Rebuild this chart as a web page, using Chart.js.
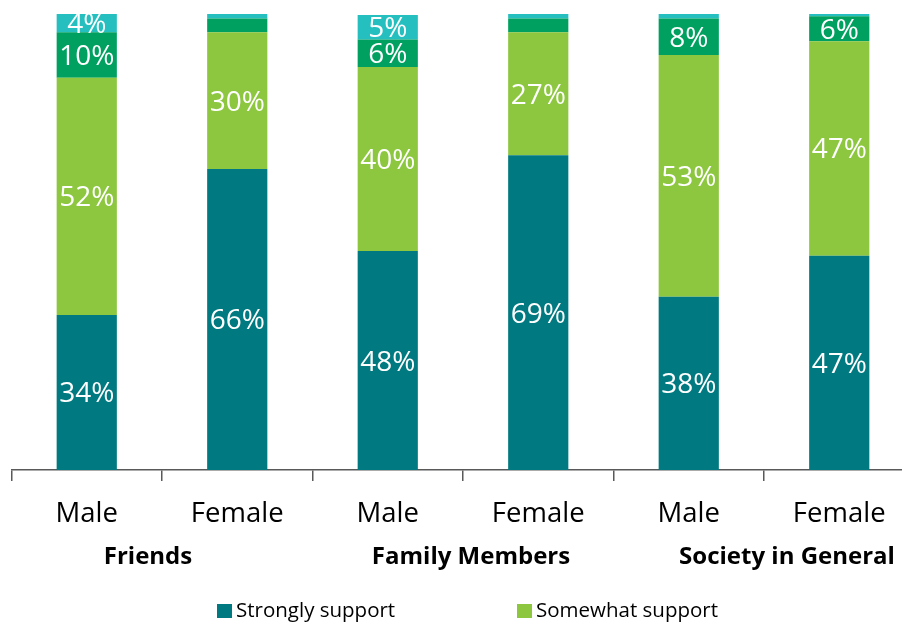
<!DOCTYPE html>
<html>
<head>
<meta charset="utf-8">
<script src="https://cdn.jsdelivr.net/npm/chart.js@4.4.1/dist/chart.umd.min.js"></script>
<style>
  html, body { margin: 0; padding: 0; background: #fff; overflow: hidden; }
  #wrap { position: relative; width: 920px; height: 624px; }
</style>
</head>
<body>
<div id="wrap"><canvas id="c" width="920" height="624"></canvas></div>
<script>
const categories = ["Male", "Female", "Male", "Female", "Male", "Female"];
const groups = ["Friends", "Family Members", "Society in General"];
const seriesNames = ["Strongly support", "Somewhat support", "Somewhat oppose", "Strongly oppose"];
const stronglySupport = [34, 66, 48, 69, 38, 47];
const somewhatSupport = [52, 30, 40.4, 27, 53, 47];
const somewhatOppose  = [10, 3, 6, 3, 8, 5.5];
const stronglyOppose  = [4, 1, 5.4, 1, 1, 0.5];

const colors = ["#007A80", "#8DC63F", "#00A160", "#26BFBF"];
const FONT = "'Open Sans', 'Noto Sans', sans-serif";

const labelPlugin = {
  id: 'valueLabels',
  afterDatasetsDraw(chart) {
    const ctx = chart.ctx;
    ctx.save();
    ctx.fillStyle = '#ffffff';
    ctx.font = "28px " + FONT;
    ctx.textAlign = 'center';
    ctx.textBaseline = 'middle';
    chart.data.datasets.forEach((ds, di) => {
      const meta = chart.getDatasetMeta(di);
      meta.data.forEach((bar, i) => {
        const v = ds.data[i];
        if (v >= 4) {
          const y = (bar.y + bar.base) / 2;
          ctx.fillText(Math.round(v) + '%', bar.x, y + 2);
        }
      });
    });
    ctx.restore();
  }
};

const groupPlugin = {
  id: 'groupLabels',
  afterDraw(chart) {
    const ctx = chart.ctx;
    const xs = chart.scales.x;
    const shifts = [-14, 8, 23];
    ctx.save();
    ctx.fillStyle = '#000';
    ctx.font = "bold 24px " + FONT;
    ctx.textAlign = 'center';
    ctx.textBaseline = 'middle';
    groups.forEach((g, k) => {
      const cx = (xs.getPixelForValue(2 * k) + xs.getPixelForValue(2 * k + 1)) / 2 + shifts[k];
      ctx.fillText(g, cx, 557);
    });
    // legend (first two series as in the reference)
    ctx.font = "20.5px " + FONT;
    ctx.textAlign = 'left';
    const legendX = [217, 517];
    [0, 1].forEach((di, k) => {
      const ds = chart.data.datasets[di];
      ctx.fillStyle = ds.backgroundColor;
      ctx.fillRect(legendX[k], 604, 15, 14);
      ctx.fillStyle = '#000';
      ctx.fillText(ds.label, legendX[k] + 19, 611);
    });
    ctx.restore();
  }
};

new Chart(document.getElementById('c'), {
  type: 'bar',
  data: {
    labels: categories,
    datasets: [
      { label: seriesNames[0], data: stronglySupport, backgroundColor: colors[0] },
      { label: seriesNames[1], data: somewhatSupport, backgroundColor: colors[1] },
      { label: seriesNames[2], data: somewhatOppose, backgroundColor: colors[2] },
      { label: seriesNames[3], data: stronglyOppose, backgroundColor: colors[3] }
    ]
  },
  options: {
    responsive: false,
    animation: false,
    layout: { padding: { left: 11.5, right: 5.5, top: 14, bottom: 0 } },
    datasets: { bar: { categoryPercentage: 1, barPercentage: 0.4, borderWidth: 0 } },
    plugins: {
      legend: { display: false },
      tooltip: { enabled: false }
    },
    scales: {
      x: {
        stacked: true,
        grid: { display: true, drawOnChartArea: false, drawTicks: true, tickLength: 11, color: '#595959', lineWidth: 1.5 },
        border: { display: true, color: '#595959', width: 1.5 },
        ticks: { color: '#000', font: { family: FONT, size: 27.5 }, padding: 17, maxRotation: 0 },
        afterFit(scale) { scale.height = 154; }
      },
      y: {
        stacked: true,
        display: false,
        min: 0,
        max: 100
      }
    }
  },
  plugins: [labelPlugin, groupPlugin]
});
</script>
</body>
</html>
